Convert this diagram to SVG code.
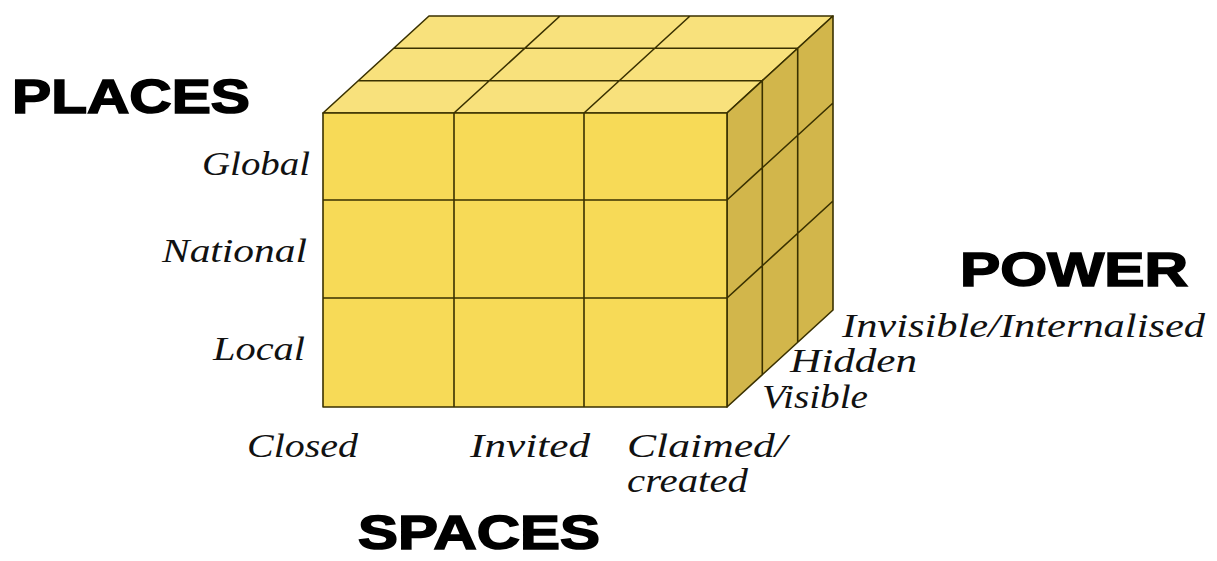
<svg xmlns="http://www.w3.org/2000/svg" width="1217" height="561" viewBox="0 0 1217 561">
<style>
.ln{stroke:#3a3100;stroke-width:1.6;stroke-linejoin:round;fill:none}
.front{fill:#F7DA57}
.top{fill:#F8E17C}
.side{fill:#D2B64B}
.big{font-family:"Liberation Sans",Arial,sans-serif;font-weight:bold;font-size:49px;fill:#000;stroke:#000;stroke-width:1.6}
.lab{font-family:"Liberation Serif","Times New Roman",serif;font-style:italic;font-size:33px;fill:#111}
</style>
<rect width="1217" height="561" fill="#fff"/>
<g id="cube">
  <g id="top-face">
    <polygon class="top" points="323,113 727,113 833,16 429,16"/>
    <path class="ln" d="M323,113 L727,113 L833,16 L429,16 Z M358.3,80.7 L762.3,80.7 M393.7,48.3 L797.7,48.3 M454,113 L560,16 M584,113 L690,16"/>
  </g>
  <g id="side-face">
    <polygon class="side" points="727,113 833,16 833,310 727,407"/>
    <path class="ln" d="M727,113 L833,16 L833,310 L727,407 Z M762.3,80.7 L762.3,374.7 M797.7,48.3 L797.7,342.3 M727,200 L833,103 M727,298 L833,201"/>
  </g>
  <g id="front-face">
    <rect class="front" x="323" y="113" width="404" height="294"/>
    <path class="ln" d="M323,113 H727 V407 H323 Z M454,113 V407 M584,113 V407 M323,200 H727 M323,298 H727"/>
  </g>
</g>
<g id="places">
  <text class="big" x="12" y="113" textLength="238" lengthAdjust="spacingAndGlyphs">PLACES</text>
  <text class="lab" x="202" y="175" textLength="108" lengthAdjust="spacingAndGlyphs">Global</text>
  <text class="lab" x="162" y="262" textLength="145" lengthAdjust="spacingAndGlyphs">National</text>
  <text class="lab" x="213" y="360" textLength="92" lengthAdjust="spacingAndGlyphs">Local</text>
</g>
<g id="power">
  <text class="big" x="960" y="286" textLength="228" lengthAdjust="spacingAndGlyphs">POWER</text>
  <text class="lab" x="842" y="337" textLength="363" lengthAdjust="spacingAndGlyphs">Invisible/Internalised</text>
  <text class="lab" x="790" y="372" textLength="127" lengthAdjust="spacingAndGlyphs">Hidden</text>
  <text class="lab" x="762" y="408" textLength="106" lengthAdjust="spacingAndGlyphs">Visible</text>
</g>
<g id="spaces">
  <text class="lab" x="247" y="457" textLength="111" lengthAdjust="spacingAndGlyphs">Closed</text>
  <text class="lab" x="470" y="457" textLength="120" lengthAdjust="spacingAndGlyphs">Invited</text>
  <text class="lab" x="627" y="457" textLength="160" lengthAdjust="spacingAndGlyphs">Claimed/</text>
  <text class="lab" x="627" y="492" textLength="121" lengthAdjust="spacingAndGlyphs">created</text>
  <text class="big" x="358" y="549" font-size="45" textLength="242" lengthAdjust="spacingAndGlyphs">SPACES</text>
</g>
</svg>
